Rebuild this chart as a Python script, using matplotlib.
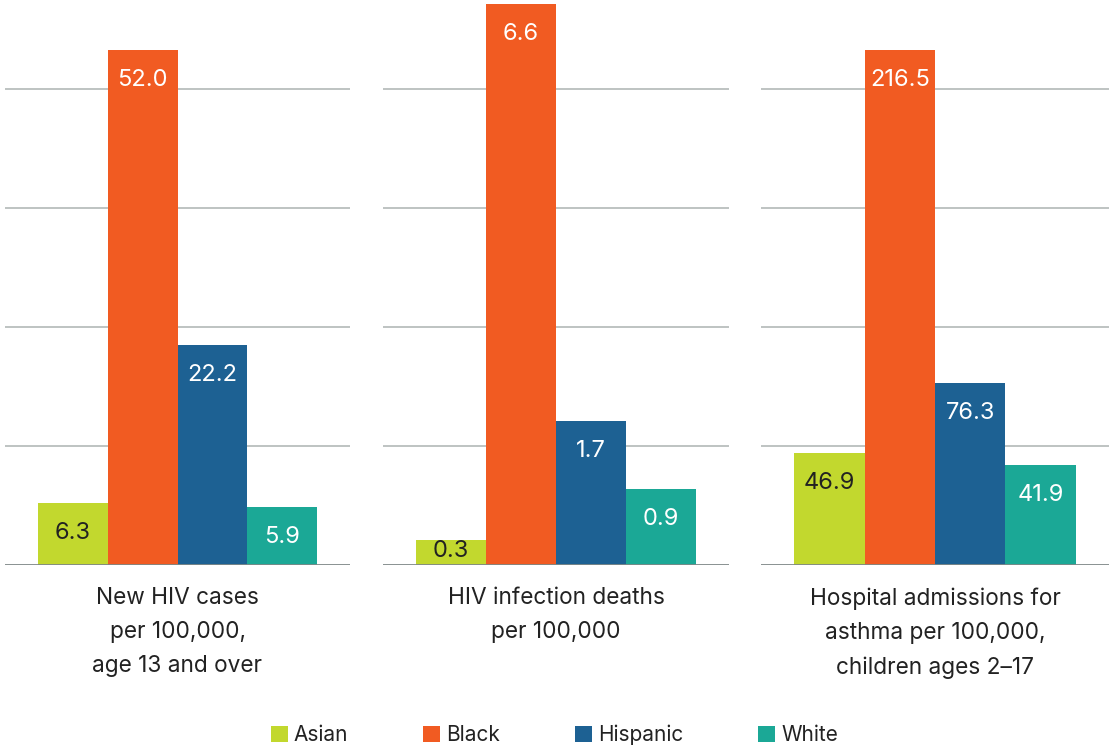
import matplotlib
matplotlib.use("Agg")
import matplotlib.pyplot as plt
from matplotlib.patches import Patch

plt.rcParams['font.family'] = ['Inter', 'DejaVu Sans']

groups = ["Asian", "Black", "Hispanic", "White"]
colors = ["#C2D82E", "#F15B22", "#1D6193", "#1BA896"]
label_colors = ["#222222", "white", "white", "white"]

titles = [
    "New HIV cases\nper 100,000,\nage 13 and over",
    "HIV infection deaths\nper 100,000",
    "Hospital admissions for\nasthma per 100,000,\nchildren ages 2\u201317",
]
hiv_cases = [6.3, 52.0, 22.2, 5.9]
hiv_deaths = [0.3, 6.6, 1.7, 0.9]
asthma = [46.9, 216.5, 76.3, 41.9]
series = [hiv_cases, hiv_deaths, asthma]
grid_steps = [12, 1.4, 50]

W, H = 1109, 747
fig = plt.figure(figsize=(W / 100, H / 100), dpi=100)

base_px = 565
panels_x = [(5, 345), (383, 346), (761, 348)]

for (x0, w), vals, step, title in zip(panels_x, series, grid_steps, titles):
    ax = fig.add_axes([x0 / W, (H - base_px) / H, w / W, base_px / H])
    top = 4.75 * step
    ax.set_ylim(0, top)
    ax.set_xlim(-0.975, 3.975)
    ax.bar(range(4), vals, width=1.0, color=colors, zorder=3)
    for k in range(1, 5):
        ax.axhline(k * step, color="#B3B9B7", lw=1.2, zorder=1)
    ax.axhline(0, color="#7E8887", lw=2, zorder=4)
    px_per_unit = base_px / top
    for i, v in enumerate(vals):
        y_px = max(v * px_per_unit - 30, 14)
        ax.text(i, y_px / px_per_unit, f"{v:.1f}", ha="center", va="center",
                fontsize=17, color=label_colors[i], zorder=5)
    for s in ax.spines.values():
        s.set_visible(False)
    ax.set_xticks([])
    ax.set_yticks([])
    ax.patch.set_alpha(0)
    fig.text((x0 + w / 2) / W, 1 - 587 / H, title, ha="center", va="top",
             fontsize=16.3, color="#222222", linespacing=1.72)

handles = [Patch(facecolor=c, label=g) for g, c in zip(groups, colors)]
fig.legend(handles=handles, loc="center", bbox_to_anchor=(0.5, 1 - 735 / H),
           ncol=4, frameon=False, fontsize=15, handlelength=0.8,
           handleheight=0.8, handletextpad=0.3, columnspacing=3.6,
           labelcolor="#222222")

fig.savefig("out.png", dpi=100)
